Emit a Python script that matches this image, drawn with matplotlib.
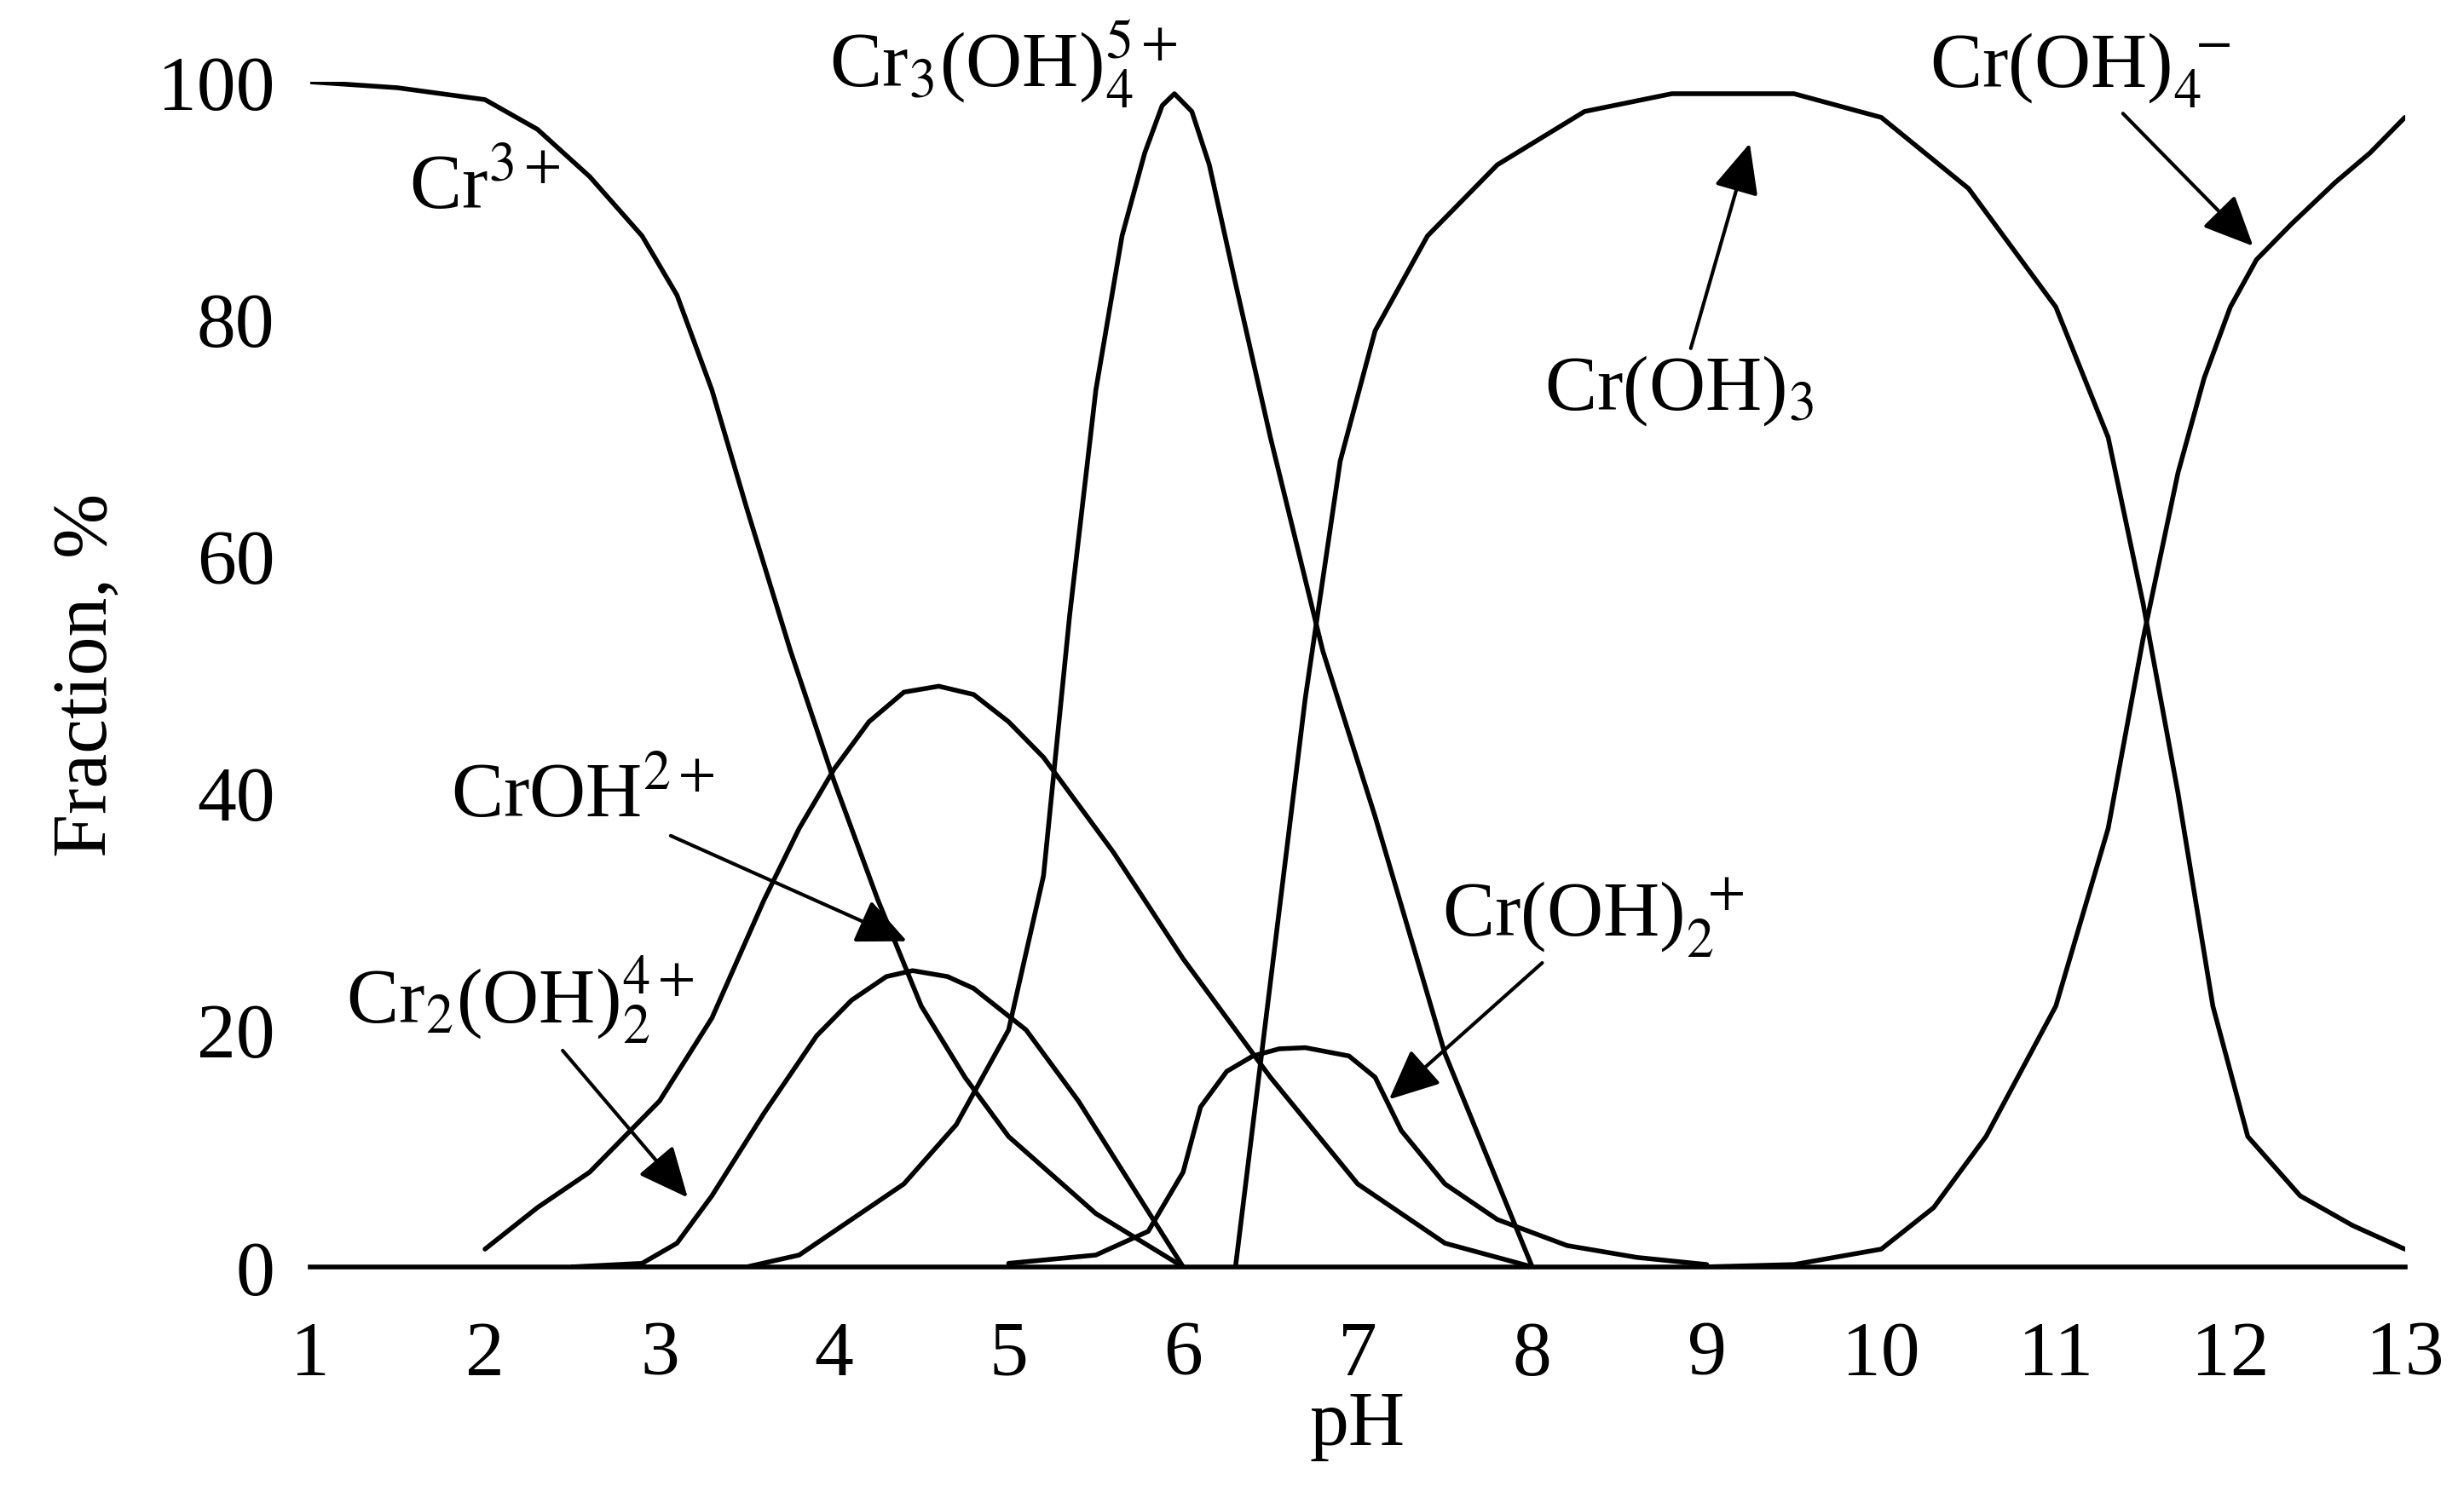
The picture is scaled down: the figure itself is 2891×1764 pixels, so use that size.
import matplotlib
matplotlib.use("Agg")
import matplotlib.pyplot as plt

plt.rcParams['font.family'] = ['Liberation Serif', 'DejaVu Serif']
plt.rcParams['mathtext.fontset'] = 'stix'

cr3_x = [1, 1.5, 2, 2.3, 2.6, 2.9, 3.1, 3.3, 3.5, 3.75, 4, 4.25, 4.5, 4.75, 5, 5.5, 6]
cr3_y = [100, 99.5, 98.5, 96, 92, 87, 82, 74, 64, 52, 41, 31, 22, 16, 11, 4.5, 0]
croh_x = [2, 2.3, 2.6, 3, 3.3, 3.6, 3.8, 4, 4.2, 4.4, 4.6, 4.8, 5, 5.2, 5.6, 6, 6.5, 7, 7.5, 8]
croh_y = [1.5, 5, 8, 14, 21, 31, 37, 42, 46, 48.5, 49, 48.3, 46, 43, 35, 26, 16, 7, 2, 0]
cr2_x = [2.5, 2.9, 3.1, 3.3, 3.6, 3.9, 4.1, 4.3, 4.45, 4.65, 4.8, 5.1, 5.4, 5.7, 6]
cr2_y = [0, 0.3, 2, 6, 13, 19.5, 22.5, 24.5, 25, 24.5, 23.5, 20, 14, 7, 0]
cr3oh_x = [2.5, 3.5, 3.8, 4.1, 4.4, 4.7, 5, 5.2, 5.35, 5.5, 5.65, 5.78, 5.88, 5.95, 6.05, 6.15, 6.3, 6.5, 6.8, 7.1, 7.5, 8]
cr3oh_y = [0, 0, 1, 4, 7, 12, 20, 33, 55, 74, 87, 94, 98, 99, 97.5, 93, 83, 70, 52, 38, 18, 0]
croh2_x = [5, 5.5, 5.8, 6, 6.1, 6.25, 6.4, 6.55, 6.7, 6.95, 7.1, 7.25, 7.5, 7.8, 8.2, 8.6, 9]
croh2_y = [0.3, 1, 3, 8, 13.5, 16.5, 17.8, 18.4, 18.5, 17.8, 16, 11.5, 7, 4, 1.8, 0.8, 0.2]
croh3_x = [6.3, 6.5, 6.7, 6.9, 7.1, 7.4, 7.8, 8.3, 8.8, 9.5, 10, 10.5, 11, 11.3, 11.5, 11.7, 11.9, 12.1, 12.4, 12.7, 13]
croh3_y = [0, 24, 48, 68, 79, 87, 93, 97.5, 99, 99, 97, 91, 81, 70, 56, 40, 22, 11, 6, 3.5, 1.5]
croh4_x = [9, 9.5, 10, 10.3, 10.6, 11, 11.3, 11.5, 11.7, 11.85, 12, 12.15, 12.35, 12.6, 12.8, 13]
croh4_y = [0, 0.2, 1.5, 5, 11, 22, 37, 53, 67, 75, 81, 85, 88, 91.5, 94, 97]

fig = plt.figure(figsize=(28.91, 17.65), dpi=100)
ax = fig.add_axes([0.126, 0.157, 0.85, 0.788])
for xs, ys in [(cr3_x, cr3_y), (croh_x, croh_y), (cr2_x, cr2_y), (cr3oh_x, cr3oh_y),
               (croh2_x, croh2_y), (croh3_x, croh3_y), (croh4_x, croh4_y)]:
    ax.plot(xs, ys, color='black', lw=4, solid_joinstyle='round', solid_capstyle='round')

ax.set_xlim(1, 13)
ax.set_ylim(0, 100)
ax.set_xticks(range(1, 14))
ax.set_yticks(range(0, 101, 20))
ax.tick_params(length=0, labelsize=66)
ax.tick_params(axis='x', pad=45)
ax.tick_params(axis='y', pad=30)
for s in ['top', 'right', 'left']:
    ax.spines[s].set_visible(False)
ax.spines['bottom'].set_linewidth(4)
ax.set_xlabel('pH', fontsize=66, labelpad=0)
ax.set_ylabel('Fraction, %', fontsize=66, labelpad=30)

fs = 66
ap = dict(arrowstyle='-|>,head_length=0.55,head_width=0.25', color='black', lw=3)
ax.text(2.0, 91, r'Cr$^{3+}$', fontsize=fs, ha='center', va='center')
ax.text(4.97, 101.5, r'Cr$_3$(OH)$_4^{5+}$', fontsize=fs, ha='center', va='center')
ax.annotate(r'CrOH$^{2+}$', xy=(4.43, 27.4), xytext=(2.56, 39.7), fontsize=fs,
            ha='center', va='center', arrowprops=ap)
ax.annotate(r'Cr$_2$(OH)$_2^{4+}$', xy=(3.17, 5.7), xytext=(2.2, 22.5), fontsize=fs,
            ha='center', va='center', arrowprops=ap)
ax.annotate(r'Cr(OH)$_2^{\ +}$', xy=(7.17, 14), xytext=(8.35, 29.5), fontsize=fs,
            ha='center', va='center', arrowprops=ap)
ax.annotate(r'Cr(OH)$_3$', xy=(9.25, 95), xytext=(8.84, 74), fontsize=fs,
            ha='center', va='center', arrowprops=ap)
ax.annotate(r'Cr(OH)$_4^{\ -}$', xy=(12.14, 86), xytext=(11.14, 101), fontsize=fs,
            ha='center', va='center', arrowprops=ap)

fig.savefig('out.png', dpi=100)
